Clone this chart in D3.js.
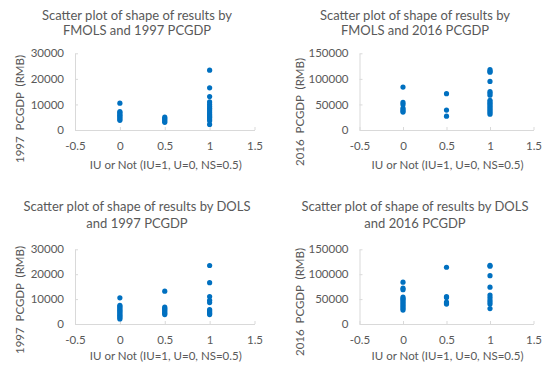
<!DOCTYPE html>
<html><head><meta charset="utf-8">
<script src="https://cdn.jsdelivr.net/npm/d3@7"></script>
<style>body{margin:0;background:#fff}svg{display:block}text{font-family:Lato,"Open Sans",sans-serif;fill:#595959}</style>
</head><body>
<svg id="c" width="550" height="383"></svg>
<script>
// ---- data ----
const xTicks = [-0.5, 0, 0.5, 1, 1.5];
const yTicks1997 = [0, 10000, 20000, 30000];
const yTicks2016 = [0, 50000, 100000, 150000];

const fmols1997_U  = [10500, 7200, 6800, 6300, 5800, 5300, 4800, 4300, 3800];
const fmols1997_NS = [5000, 4500, 4000, 3500, 3000];
const fmols1997_IU = [23400, 16500, 13100, 11000, 10000, 9200, 8500, 7800, 7000, 6300, 5600, 5000, 4300, 3600, 2200];

const fmols2016_U  = [84000, 54000, 50000, 43000, 40000, 37000, 35000];
const fmols2016_NS = [71000, 39000, 27000];
const fmols2016_IU = [118000, 115000, 113000, 95000, 75000, 72000, 68000, 58000, 55000, 52000, 49000, 46000, 43000, 40000, 37000, 34000, 31000];

const dols1997_U  = [10500, 7500, 7000, 6500, 6000, 5500, 5000, 4500, 4000, 3500, 3000, 2500, 2000];
const dols1997_NS = [13200, 6800, 6300, 5800, 5300, 4800, 4300, 3800];
const dols1997_IU = [23500, 16600, 11000, 9500, 8600, 5800, 5300, 4800, 4300, 3800];

const dols2016_U  = [84000, 72000, 69000, 54000, 51000, 49000, 46000, 43000, 40000, 37000, 34000, 31000, 28000];
const dols2016_NS = [114000, 55000, 53000, 44000, 42000, 40000];
const dols2016_IU = [118000, 116000, 97000, 74000, 58000, 53000, 48000, 44000, 40000, 31000];

const xTitle = "IU or Not (IU=1, U=0, NS=0.5)";

// ---- layout ----
const panels = [
  {title:["Scatter plot of shape of results by","FMOLS and 1997 PCGDP"], ytitle:"1997\u00a0 PCGDP\u00a0 (RMB)",
   groups:[[0,fmols1997_U],[0.5,fmols1997_NS],[1,fmols1997_IU]], yTicks:yTicks1997,
   x0:75, x1:254.5, yb:130, yt:53.3, tx:137, ty:[15,30], xty:165, ytx:20, yty:109},
  {title:["Scatter plot of shape of results by","FMOLS and 2016 PCGDP"], ytitle:"2016\u00a0 PCGDP\u00a0 (RMB)",
   groups:[[0,fmols2016_U],[0.5,fmols2016_NS],[1,fmols2016_IU]], yTicks:yTicks2016,
   x0:359.5, x1:533.5, yb:130, yt:53.3, tx:415, ty:[15,30], xty:165, ytx:300, yty:112},
  {title:["Scatter plot of shape of results by DOLS","and 1997 PCGDP"], ytitle:"1997\u00a0 PCGDP\u00a0 (RMB)",
   groups:[[0,dols1997_U],[0.5,dols1997_NS],[1,dols1997_IU]], yTicks:yTicks1997,
   x0:75, x1:254.5, yb:324, yt:249.3, tx:137, ty:[206.7,223.3], xty:355.7, ytx:20, yty:300},
  {title:["Scatter plot of shape of results by DOLS","and 2016 PCGDP"], ytitle:"2016\u00a0 PCGDP\u00a0 (RMB)",
   groups:[[0,dols2016_U],[0.5,dols2016_NS],[1,dols2016_IU]], yTicks:yTicks2016,
   x0:359.5, x1:533.5, yb:324, yt:249.3, tx:415, ty:[206.7,223.3], xty:355.7, ytx:300, yty:302}
];

const svg = d3.select("#c");
const axisCol = "#d9d9d9";

panels.forEach(p => {
  const g = svg.append("g");
  const x = d3.scaleLinear().domain([-0.5, 1.5]).range([p.x0, p.x1]);
  const y = d3.scaleLinear().domain([0, p.yTicks[p.yTicks.length-1]]).range([p.yb, p.yt]);

  // x axis
  const xa = g.append("g").attr("transform", `translate(0,${p.yb})`)
    .call(d3.axisBottom(x).tickValues(xTicks).tickSizeInner(-3).tickSizeOuter(0).tickPadding(8).tickFormat(d => String(d)));
  xa.select(".domain").attr("stroke", axisCol);
  xa.selectAll(".tick line").attr("stroke", axisCol);
  xa.selectAll(".tick text").attr("font-size", 11.5).attr("fill", "#595959").attr("y", 16).attr("dy", "0.35em")
    .style("font-family","Lato,'Open Sans',sans-serif");

  // y axis
  const ya = g.append("g").attr("transform", `translate(${p.x0},0)`)
    .call(d3.axisLeft(y).tickValues(p.yTicks).tickSizeInner(-3).tickSizeOuter(0).tickPadding(11).tickFormat(d => String(d)));
  ya.select(".domain").attr("stroke", axisCol);
  ya.selectAll(".tick line").attr("stroke", axisCol);
  ya.selectAll(".tick text").attr("font-size", 11.5).attr("fill", "#595959").attr("x", -11)
    .style("font-family","Lato,'Open Sans',sans-serif");

  // points
  const pts = [];
  p.groups.forEach(([gx, vals]) => vals.forEach(v => pts.push([gx, v])));
  g.selectAll("circle").data(pts).enter().append("circle")
    .attr("cx", d => x(d[0])).attr("cy", d => y(d[1])).attr("r", 2.6).attr("fill", "#0070C0");

  // titles
  g.selectAll("text.t").data(p.title).enter().append("text").attr("class","t")
    .attr("x", p.tx).attr("y", (d,i) => p.ty[i]).attr("dy","0.35em").attr("text-anchor","middle")
    .attr("font-size", 13).text(d => d);
  g.append("text").attr("x", (p.x0+p.x1)/2 + 1).attr("y", p.xty).attr("dy","0.35em").attr("text-anchor","middle")
    .attr("font-size", 11.5).text(xTitle);
  g.append("text").attr("transform", `translate(${p.ytx},${p.yty}) rotate(-90)`).attr("dy","0.35em")
    .attr("text-anchor","middle").attr("font-size", 11.5).text(p.ytitle);
});
</script>
</body></html>
